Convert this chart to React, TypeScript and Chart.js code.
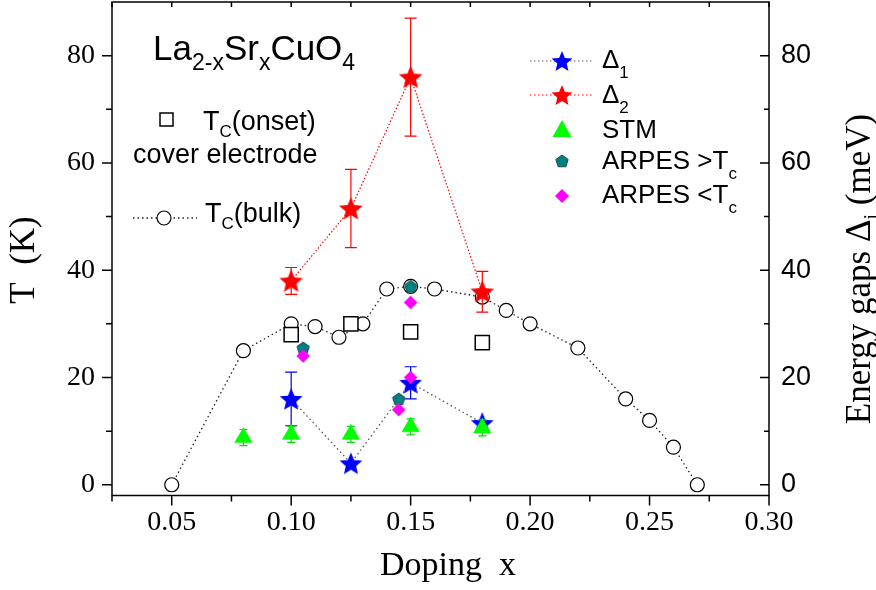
import React, { useEffect, useRef } from 'react';
import { Chart, registerables } from 'chart.js';
Chart.register(...registerables);

// ---------- data ----------
const tcBulkX = [0.05, 0.08, 0.10, 0.11, 0.12, 0.13, 0.14, 0.15, 0.16, 0.18, 0.19, 0.20, 0.22, 0.24, 0.25, 0.26, 0.27];
const tcBulkY = [0, 25, 30, 29.5, 27.5, 30, 36.5, 37, 36.5, 35, 32.5, 30, 25.5, 16, 12, 7, 0];
const tcOnsetX = [0.10, 0.125, 0.15, 0.18];
const tcOnsetY = [28, 30, 28.5, 26.5];
const gapX = [0.10, 0.125, 0.15, 0.18];
const delta1 = [16, 4, 19, 11.5];
const delta1Err = [5, 0, 3, 0];
const delta2 = [38, 51.5, 76, 36];
const delta2Err = [2.5, 7.3, 11, 3.8];
const stmX = [0.08, 0.10, 0.125, 0.15, 0.18];
const stmY = [8.8, 9.4, 9.4, 10.8, 10.6];
const stmErr = [1.5, 1.5, 1.5, 1.5, 1.5];
const arpesAboveX = [0.105, 0.145, 0.15];
const arpesAboveY = [25.5, 16, 37];
const arpesBelowX = [0.105, 0.145, 0.15, 0.15];
const arpesBelowY = [24, 14, 20, 34];
const xTickValues = [0.025, 0.05, 0.075, 0.10, 0.125, 0.15, 0.175, 0.20, 0.225, 0.25, 0.275, 0.30];
const yTickValues = [0, 10, 20, 30, 40, 50, 60, 70, 80];

const SERIF = "'Liberation Serif', 'Times New Roman', serif";
const SANS = "'Liberation Sans', Arial, sans-serif";

const pts = (xs: number[], ys: number[]) => xs.map((x, i) => ({ x, y: ys[i] }));

function makeStar(color: string, R: number, r: number): HTMLCanvasElement {
  const c = document.createElement('canvas');
  const s = Math.ceil(2 * R + 2);
  c.width = s; c.height = s;
  const ctx = c.getContext('2d')!;
  ctx.translate(s / 2, s / 2 + 1);
  ctx.beginPath();
  for (let i = 0; i < 10; i++) {
    const rad = i % 2 === 0 ? R : r;
    const a = -Math.PI / 2 + (i * Math.PI) / 5;
    ctx.lineTo(rad * Math.cos(a), rad * Math.sin(a));
  }
  ctx.closePath();
  ctx.fillStyle = color;
  ctx.fill();
  return c;
}

function makePentagon(color: string, edge: string, R: number): HTMLCanvasElement {
  const c = document.createElement('canvas');
  const s = Math.ceil(2 * R + 3);
  c.width = s; c.height = s;
  const ctx = c.getContext('2d')!;
  ctx.translate(s / 2, s / 2 + 0.5);
  ctx.beginPath();
  for (let i = 0; i < 5; i++) {
    const a = -Math.PI / 2 + (i * 2 * Math.PI) / 5;
    ctx.lineTo(R * Math.cos(a), R * Math.sin(a));
  }
  ctx.closePath();
  ctx.fillStyle = color;
  ctx.fill();
  ctx.strokeStyle = edge;
  ctx.lineWidth = 1;
  ctx.stroke();
  return c;
}

type Part = { t: string; size: number; dy?: number; font?: string };

function partsWidth(ctx: CanvasRenderingContext2D, parts: Part[]) {
  let w = 0;
  for (const p of parts) {
    ctx.font = `${p.size}px ${p.font || SANS}`;
    w += ctx.measureText(p.t).width;
  }
  return w;
}

function drawParts(ctx: CanvasRenderingContext2D, x: number, y: number, parts: Part[]) {
  ctx.textAlign = 'left';
  ctx.textBaseline = 'alphabetic';
  ctx.fillStyle = '#000';
  let cx = x;
  for (const p of parts) {
    ctx.font = `${p.size}px ${p.font || SANS}`;
    ctx.fillText(p.t, cx, y + (p.dy || 0));
    cx += ctx.measureText(p.t).width;
  }
}

const noPad = (s: any) => {
  s.paddingTop = 0; s.paddingBottom = 0; s.paddingLeft = 0; s.paddingRight = 0;
};

export default function App() {
  const ref = useRef<HTMLCanvasElement>(null);

  useEffect(() => {
    const redStar = makeStar('#ff0000', 12.5, 5.6);
    const blueStar = makeStar('#0000ff', 12, 5.4);
    const redStarL = makeStar('#ff0000', 11, 4.9);
    const blueStarL = makeStar('#0000ff', 11, 4.9);
    const pent = makePentagon('#008080', '#1d4a4a', 6.5);

    const errorBars = {
      id: 'errorBars',
      beforeDatasetDraw(chart: any, args: any) {
        const ds: any = chart.data.datasets[args.index];
        if (!ds.errors) return;
        const ctx = chart.ctx;
        const yScale = chart.scales.y;
        const meta = chart.getDatasetMeta(args.index);
        ctx.save();
        ctx.strokeStyle = ds.errorColor;
        ctx.lineWidth = 1.2;
        meta.data.forEach((el: any, i: number) => {
          const e = ds.errors[i];
          if (!e) return;
          const v = ds.data[i].y;
          const top = yScale.getPixelForValue(v + e);
          const bot = yScale.getPixelForValue(v - e);
          const hw = ds.capWidth / 2;
          ctx.beginPath();
          ctx.moveTo(el.x, top); ctx.lineTo(el.x, bot);
          ctx.moveTo(el.x - hw, top); ctx.lineTo(el.x + hw, top);
          ctx.moveTo(el.x - hw, bot); ctx.lineTo(el.x + hw, bot);
          ctx.stroke();
        });
        ctx.restore();
      },
    };

    const frame = {
      id: 'frame',
      afterDatasetsDraw(chart: any) {
        const ctx = chart.ctx;
        const a = chart.chartArea;
        const xs = chart.scales.x;
        const ys = chart.scales.y;
        ctx.save();
        ctx.strokeStyle = '#000';
        ctx.lineWidth = 1.5;
        ctx.strokeRect(a.left, a.top, a.right - a.left, a.bottom - a.top);
        ctx.lineWidth = 1.5;
        ctx.beginPath();
        for (const v of xTickValues) {
          const px = xs.getPixelForValue(v);
          const major = Math.round(v * 1000) % 50 === 0;
          ctx.moveTo(px, a.bottom); ctx.lineTo(px, a.bottom + (major ? 10 : 6));
          ctx.moveTo(px, a.top); ctx.lineTo(px, a.top + 5);
        }
        for (const v of yTickValues) {
          const py = ys.getPixelForValue(v);
          const major = v % 20 === 0;
          ctx.moveTo(a.left, py); ctx.lineTo(a.left - (major ? 10 : 6), py);
          ctx.moveTo(a.right, py); ctx.lineTo(a.right - (major ? 9 : 5), py);
        }
        ctx.stroke();
        ctx.restore();
      },
    };

    const texts = {
      id: 'texts',
      afterDraw(chart: any) {
        const ctx = chart.ctx;
        ctx.save();
        // formula
        drawParts(ctx, 153, 60, [
          { t: 'La', size: 35 }, { t: '2-x', size: 23, dy: 10 }, { t: 'Sr', size: 35 },
          { t: 'x', size: 23, dy: 10 }, { t: 'CuO', size: 35 }, { t: '4', size: 23, dy: 10 },
        ]);
        // left legend: square
        ctx.strokeStyle = '#000';
        ctx.lineWidth = 1.5;
        ctx.strokeRect(160, 113, 13, 13);
        drawParts(ctx, 203, 130, [{ t: 'T', size: 27 }, { t: 'C', size: 17, dy: 7 }, { t: '(onset)', size: 27 }]);
        drawParts(ctx, 133, 163, [{ t: 'cover electrode', size: 27 }]);
        // circle legend
        ctx.strokeStyle = '#222';
        ctx.lineWidth = 1.3;
        ctx.setLineDash([1.5, 3]);
        ctx.beginPath();
        ctx.moveTo(133, 218); ctx.lineTo(197, 218);
        ctx.stroke();
        ctx.setLineDash([]);
        ctx.beginPath();
        ctx.arc(164, 218, 7, 0, Math.PI * 2);
        ctx.fillStyle = '#fff';
        ctx.fill();
        ctx.strokeStyle = '#000';
        ctx.lineWidth = 1.2;
        ctx.stroke();
        drawParts(ctx, 205, 222, [{ t: 'T', size: 27 }, { t: 'C', size: 17, dy: 7 }, { t: '(bulk)', size: 27 }]);

        // right legend
        const lx = 562;
        ctx.lineWidth = 1.2;
        ctx.setLineDash([1.5, 2.5]);
        ctx.strokeStyle = '#666';
        ctx.beginPath(); ctx.moveTo(530, 61); ctx.lineTo(594, 61); ctx.stroke();
        ctx.strokeStyle = '#ff0000';
        ctx.beginPath(); ctx.moveTo(530, 95); ctx.lineTo(594, 95); ctx.stroke();
        ctx.setLineDash([]);
        ctx.drawImage(blueStarL, lx - blueStarL.width / 2, 61 - blueStarL.height / 2);
        ctx.drawImage(redStarL, lx - redStarL.width / 2, 95 - redStarL.height / 2);
        drawParts(ctx, 602, 68, [{ t: 'Δ', size: 26 }, { t: '1', size: 17, dy: 10 }]);
        drawParts(ctx, 602, 103, [{ t: 'Δ', size: 26 }, { t: '2', size: 17, dy: 10 }]);
        // triangle
        ctx.beginPath();
        ctx.moveTo(lx, 120); ctx.lineTo(lx + 9.5, 137); ctx.lineTo(lx - 9.5, 137); ctx.closePath();
        ctx.fillStyle = '#00ff00'; ctx.fill();
        drawParts(ctx, 602, 138, [{ t: 'STM', size: 26 }]);
        ctx.drawImage(pent, lx - pent.width / 2, 161 - pent.height / 2);
        drawParts(ctx, 602, 169, [{ t: 'ARPES >T', size: 26 }, { t: 'c', size: 17, dy: 10 }]);
        ctx.beginPath();
        ctx.moveTo(lx, 189); ctx.lineTo(lx + 7, 196); ctx.lineTo(lx, 203); ctx.lineTo(lx - 7, 196); ctx.closePath();
        ctx.fillStyle = '#ff00ff'; ctx.fill();
        drawParts(ctx, 602, 203, [{ t: 'ARPES <T', size: 26 }, { t: 'c', size: 17, dy: 10 }]);

        // axis titles
        const bottom: Part[] = [{ t: 'Doping  x', size: 34, font: SERIF }];
        drawParts(ctx, 448 - partsWidth(ctx, bottom) / 2, 575, bottom);

        const left: Part[] = [{ t: 'T  (K)', size: 35, font: SERIF }];
        ctx.save();
        ctx.translate(34, 260);
        ctx.rotate(-Math.PI / 2);
        drawParts(ctx, -partsWidth(ctx, left) / 2, 0, left);
        ctx.restore();

        const right: Part[] = [
          { t: 'Energy gaps ', size: 35, font: SERIF },
          { t: 'Δ', size: 35, font: SERIF },
          { t: 'i', size: 20, dy: 8, font: SERIF },
          { t: ' (meV)', size: 35, font: SERIF },
        ];
        ctx.save();
        ctx.translate(870, 269);
        ctx.rotate(-Math.PI / 2);
        drawParts(ctx, -partsWidth(ctx, right) / 2, 0, right);
        ctx.restore();
        ctx.restore();
      },
    };

    const chart = new Chart(ref.current!, {
      type: 'scatter',
      data: {
        datasets: [
          {
            label: 'ARPES <Tc',
            data: pts(arpesBelowX, arpesBelowY),
            pointStyle: 'rectRot',
            pointRadius: 6.5,
            pointBackgroundColor: '#ff00ff',
            pointBorderColor: '#ff00ff',
            pointBorderWidth: 0.5,
            order: 1,
          },
          {
            label: 'ARPES >Tc',
            data: pts(arpesAboveX, arpesAboveY),
            pointStyle: pent,
            pointRadius: 7,
            order: 2,
          },
          {
            label: 'STM',
            data: pts(stmX, stmY),
            pointStyle: 'triangle',
            pointRadius: 10,
            pointBackgroundColor: '#00ff00',
            pointBorderColor: '#00f000',
            pointBorderWidth: 0.5,
            errors: stmErr,
            errorColor: '#00e000',
            capWidth: 8,
            order: 3,
          } as any,
          {
            label: 'Δ1',
            data: pts(gapX, delta1),
            showLine: true,
            borderColor: '#555',
            borderWidth: 1.3,
            borderDash: [1.5, 3],
            pointStyle: blueStar,
            pointRadius: 12,
            errors: delta1Err,
            errorColor: '#0000ff',
            capWidth: 12,
            order: 4,
          } as any,
          {
            label: 'Δ2',
            data: pts(gapX, delta2),
            showLine: true,
            borderColor: '#ff0000',
            borderWidth: 1.2,
            borderDash: [1.5, 2],
            pointStyle: redStar,
            pointRadius: 12,
            errors: delta2Err,
            errorColor: '#ff0000',
            capWidth: 12,
            order: 5,
          } as any,
          {
            label: 'Tc(onset)',
            data: pts(tcOnsetX, tcOnsetY),
            pointStyle: 'rect',
            pointRadius: 10,
            pointBackgroundColor: '#fff',
            pointBorderColor: '#000',
            pointBorderWidth: 1.5,
            order: 6,
          },
          {
            label: 'Tc(bulk)',
            data: pts(tcBulkX, tcBulkY),
            showLine: true,
            borderColor: '#222',
            borderWidth: 1.3,
            borderDash: [1.5, 3],
            pointStyle: 'circle',
            pointRadius: 7,
            pointBackgroundColor: '#fff',
            pointBorderColor: '#000',
            pointBorderWidth: 1.2,
            order: 7,
          },
        ],
      },
      options: {
        animation: false,
        responsive: false,
        events: [],
        layout: { autoPadding: false, padding: { top: 2, left: 0, right: 0, bottom: 0 } },
        plugins: { legend: { display: false }, tooltip: { enabled: false } },
        scales: {
          x: {
            type: 'linear',
            position: 'bottom',
            min: 0.025,
            max: 0.30,
            grid: { display: false, drawTicks: false },
            border: { display: false },
            afterBuildTicks: (s: any) => { s.ticks = xTickValues.map((value) => ({ value })); },
            afterFit: (s: any) => { s.height = 94.5; noPad(s); },
            ticks: {
              autoSkip: false,
              maxRotation: 0,
              padding: 10,
              color: '#000',
              font: { family: SERIF, size: 28 },
              callback: (v: any) => (Math.round(Number(v) * 1000) % 50 === 0 ? Number(v).toFixed(2) : ''),
            },
          },
          y: {
            type: 'linear',
            position: 'left',
            min: -2,
            max: 90,
            grid: { display: false, drawTicks: false },
            border: { display: false },
            afterBuildTicks: (s: any) => { s.ticks = yTickValues.map((value) => ({ value })); },
            afterFit: (s: any) => { s.width = 112; noPad(s); },
            ticks: {
              autoSkip: false,
              padding: 17,
              color: '#000',
              font: { family: SERIF, size: 28 },
              callback: (v: any) => (Number(v) % 20 === 0 ? String(v) : ''),
            },
          },
          y2: {
            type: 'linear',
            position: 'right',
            min: -2,
            max: 90,
            grid: { display: false, drawTicks: false },
            border: { display: false },
            afterBuildTicks: (s: any) => { s.ticks = yTickValues.map((value) => ({ value })); },
            afterFit: (s: any) => { s.width = 107; noPad(s); },
            ticks: {
              autoSkip: false,
              padding: 12,
              color: '#000',
              font: { family: SANS, size: 27 },
              callback: (v: any) => (Number(v) % 20 === 0 ? String(v) : ''),
            },
          },
        },
      } as any,
      plugins: [errorBars, frame, texts],
    });
    return () => chart.destroy();
  }, []);

  return (
    <div style={{ position: 'absolute', left: 0, top: 0, width: 876, height: 590, background: '#fff' }}>
      <canvas ref={ref} width={876} height={590} />
    </div>
  );
}
